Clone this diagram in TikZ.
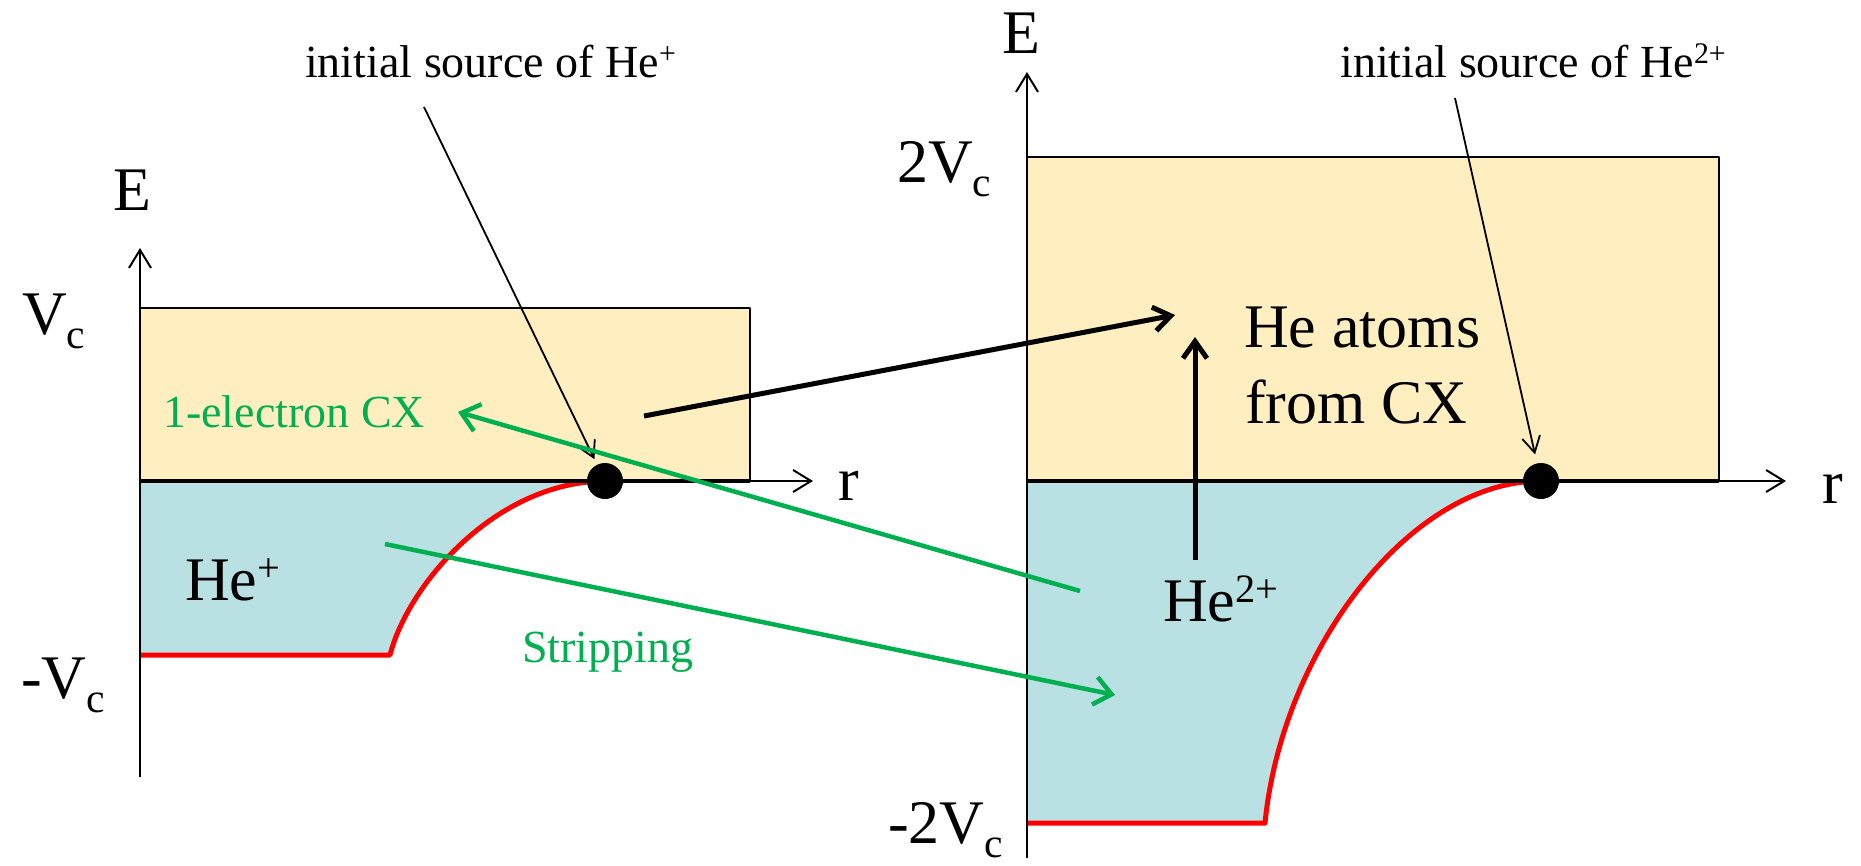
\documentclass[tikz,border=0pt]{standalone}
\usepackage{fontspec}
\setmainfont{Liberation Serif}
\usepackage{graphicx}
\usetikzlibrary{arrows.meta}
\definecolor{pyellow}{HTML}{FFEEC0}
\definecolor{pblue}{HTML}{B9E0E3}
\definecolor{pgreen}{HTML}{00B050}
\definecolor{pred}{HTML}{FF0000}
\newcommand\mysub[1]{\raisebox{-0.24em}{\scalebox{0.67}{#1}}}
\newcommand\mysup[1]{\raisebox{0.3em}{\scalebox{0.65}{#1}}}
\begin{document}
\begin{tikzpicture}[x=1pt,y=-1pt,line join=round,
  big/.style={font=\fontsize{62}{76}\selectfont,inner sep=0pt},
  mid/.style={font=\fontsize{46}{52}\selectfont,inner sep=0pt},
  axisarr/.style={line width=2pt,-{Straight Barb[length=18pt,width=22pt]}},
  thinarr/.style={line width=1.8pt,-{Straight Barb[length=16pt,width=18pt]}},
  greenarr/.style={pgreen,line width=4.5pt,-{Straight Barb[length=17pt,width=28pt]}},
  blackarr/.style={line width=5pt,-{Straight Barb[length=17pt,width=24pt]}},
  redline/.style={pred,line width=5pt},
  dot/.style={circle,fill=black,minimum size=36pt,inner sep=0pt},
  box/.style={draw=black,line width=1.5pt,fill=pyellow}]
\useasboundingbox (0,0) rectangle (1861,865);

% ---------- left panel ----------
\draw[box] (140,308) rectangle (750,481);
\fill[pblue] (140,481) -- (605,481) .. controls (495,482) and (408,585) .. (390,655) -- (140,655) -- cycle;
\draw[redline] (140,655) -- (390,655) .. controls (408,585) and (495,482) .. (605,481);
\draw[line width=4pt] (140,481) -- (750,481);
\draw[axisarr] (140,777) -- (140,248);
\draw[axisarr] (140,481) -- (813,481);
\node[dot] (d1) at (605,481) {};

\node[big,anchor=base] (E1) at (132,210) {E};
\node[big,anchor=base west] (vc1) at (22,334) {V\mysub{c}};
\node[big,anchor=base west] (mvc1) at (21,698) {-V\mysub{c}};
\node[big,anchor=base west] (r1) at (838,500) {r};
\node[big,anchor=base west] (he1) at (185,600) {He\mysup{+}};
\node[mid,anchor=base west,text=pgreen] (cxl) at (163,427) {1-electron CX};
\node[mid,anchor=base west,text=pgreen] (strip) at (522,662) {Stripping};
\node[mid,anchor=base west] (src1) at (305,77) {initial source of He\mysup{+}};

% ---------- right panel ----------
\draw[box] (1027,157) rectangle (1719,481);
\fill[pblue] (1027,481) -- (1541,481) .. controls (1410,481) and (1282,650) .. (1265,823) -- (1027,823) -- cycle;
\draw[redline] (1027,823) -- (1265,823) .. controls (1282,650) and (1410,481) .. (1541,481);
\draw[line width=4pt] (1027,481) -- (1719,481);
\draw[axisarr] (1027,858) -- (1027,72);
\draw[axisarr] (1027,481) -- (1786,481);
\node[dot] (d2) at (1541,481) {};

\node[big,anchor=base] (E2) at (1021,53) {E};
\node[big,anchor=base west] (vc2) at (897,182) {2V\mysub{c}};
\node[big,anchor=base west] (mvc2) at (888,843) {-2V\mysub{c}};
\node[big,anchor=base west] (r2) at (1822,503) {r};
\node[big,anchor=base west] (he2) at (1163,621) {He\mysup{2+}};
\node[big,anchor=base west] (hea) at (1244,347) {He atoms};
\node[big,anchor=base west] (fcx) at (1245,423) {from CX};
\node[mid,anchor=base west] (src2) at (1340,77) {initial source of He\mysup{2+}};

% ---------- connectors ----------
\coordinate (s1) at (424,107);
\coordinate (s2) at (1455,98);
\draw[thinarr,shorten >=6pt] (s1) -- (d1);
\draw[thinarr,shorten >=9pt] (s2) -- (d2);

\coordinate (cxa) at (644,416);
\coordinate (cxb) at (1175,315);
\draw[blackarr] (cxa) -- (cxb);
\coordinate (upa) at (1195,560);
\coordinate (upb) at (1195,337);
\draw[blackarr] (upa) -- (upb);

\coordinate (ga) at (1080,591);
\coordinate (gb) at (458,412);
\draw[greenarr] (ga) -- (gb);
\coordinate (gc) at (385,544);
\coordinate (gd) at (1115,695);
\draw[greenarr] (gc) -- (gd);
\end{tikzpicture}
\end{document}
